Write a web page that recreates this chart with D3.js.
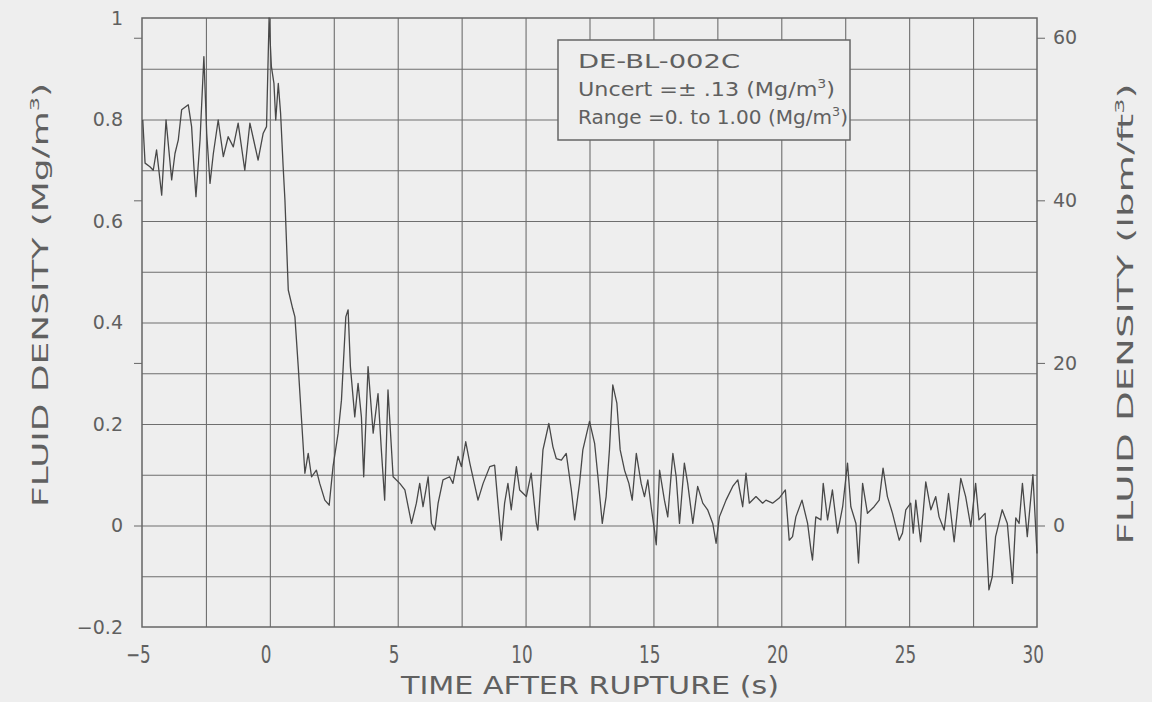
<!DOCTYPE html>
<html>
<head>
<meta charset="utf-8">
<script src="https://cdn.jsdelivr.net/npm/d3@7"></script>
<style>
  body { margin: 0; background: #eeeeee; }
  svg { display: block; }
</style>
</head>
<body>
<div id="chart"></div>
<script>
// time after rupture (s)
const time = [
  -4.97,-4.88,-4.69,-4.56,-4.43,-4.23,-4.06,-3.84,-3.71,-3.58,-3.45,-3.19,-3.06,-2.97,-2.89,-2.73,-2.58,-2.47,-2.34,-2.21,
  -2.02,-1.82,-1.63,-1.43,-1.24,-0.98,-0.78,-0.46,-0.26,-0.13,-0.03,0.06,0.16,0.23,0.33,0.42,0.52,0.59,0.72,0.89,
  0.98,1.11,1.24,1.37,1.50,1.63,1.82,1.95,2.15,2.32,2.47,2.67,2.80,2.97,3.06,3.15,3.32,3.45,3.58,3.67,
  3.84,4.04,4.23,4.36,4.49,4.62,
  4.82,5.08,5.28,5.54,5.73,5.86,5.99,6.19,6.32,6.45,6.58,6.77,7.03,7.16,7.36,7.49,7.66,7.82,8.14,8.34,
  8.60,8.79,8.92,9.05,9.18,9.31,9.44,9.64,9.77,10.03,10.22,10.42,10.48,10.68,10.91,11.07,11.20,11.40,11.59,11.79,
  11.92,12.11,12.24,12.50,12.70,12.83,13.00,13.15,13.28,13.41,13.57,13.70,13.87,14.04,14.17,14.33,14.52,14.65,14.78,14.91,
  15.04,15.11,15.24,15.43,15.56,15.76,15.89,16.02,16.21,16.34,16.54,16.73,16.93,17.12,17.32,17.45,17.58,17.84,18.10,18.30,
  18.49,18.62,18.75,19.01,19.27,
  19.40,19.66,19.92,20.16,20.31,20.44,20.57,20.81,21.03,21.16,21.22,21.35,21.55,21.64,21.81,22.00,22.20,22.40,22.59,22.72,
  22.92,23.02,23.18,23.37,23.63,23.83,23.98,24.15,24.35,24.61,24.74,24.87,25.06,25.16,25.26,25.45,25.65,25.85,26.04,26.17,
  26.37,26.54,26.76,27.02,27.21,27.41,27.60,27.73,27.97,28.12,28.25,28.38,28.64,28.84,29.04,29.17,29.30,29.43,29.62,29.84,
  30.00
];

// fluid density (Mg/m3)
const density = [
  0.799,0.714,0.707,0.700,0.740,0.651,0.799,0.681,0.733,0.760,0.819,0.829,0.786,0.707,0.648,0.760,0.924,0.773,0.674,0.733,
  0.799,0.727,0.766,0.746,0.793,0.700,0.793,0.720,0.773,0.786,1.000,0.904,0.871,0.799,0.871,0.812,0.707,0.641,0.464,0.428,
  0.411,0.313,0.208,0.103,0.142,0.096,0.109,0.083,0.050,0.040,0.116,0.182,0.247,0.411,0.425,0.313,0.214,0.280,0.214,0.096,
  0.313,0.182,0.260,0.149,0.050,0.267,
  0.096,0.083,0.070,0.004,0.044,0.083,0.037,0.096,0.004,-0.009,0.044,0.090,0.096,0.083,0.136,0.116,0.165,0.123,0.050,0.083,
  0.116,0.119,0.044,-0.029,0.044,0.083,0.031,0.116,0.070,0.057,0.103,0.004,-0.009,0.149,0.201,0.155,0.132,0.129,0.142,0.070,
  0.011,0.083,0.149,0.205,0.162,0.096,0.004,0.057,0.149,0.277,0.241,0.149,0.109,0.083,0.050,0.142,0.083,0.057,0.090,0.037,
  -0.009,-0.038,0.109,0.050,0.017,0.142,0.096,0.004,0.123,0.083,0.004,0.077,0.044,0.031,0.004,-0.035,0.017,0.050,0.077,0.090,
  0.037,0.103,0.044,0.057,0.044,
  0.050,0.044,0.054,0.070,-0.029,-0.022,0.017,0.050,0.004,-0.048,-0.068,0.017,0.011,0.083,0.011,0.070,-0.015,0.037,0.123,0.037,
  0.004,-0.074,0.083,0.024,0.037,0.050,0.113,0.057,0.024,-0.029,-0.015,0.031,0.044,-0.015,0.050,-0.032,0.086,0.031,0.057,0.017,
  -0.009,0.063,-0.032,0.093,0.057,-0.002,0.083,0.011,0.024,-0.127,-0.101,-0.022,0.031,0.004,-0.114,0.015,0.004,0.083,-0.022,0.100,
  -0.055
];

// ticks and labels
const xTicks = [-5, 0, 5, 10, 15, 20, 25, 30];
const yTicks = [1, 0.8, 0.6, 0.4, 0.2, 0, -0.2];
const yTickLabels = ["1", "0.8", "0.6", "0.4", "0.2", "0", "\u22120.2"];
const yRightTicks = [60, 40, 20, 0];
const legendLines = ["DE-BL-002C", "Uncert =\u00b1 .13 (Mg/m", "Range =0. to 1.00 (Mg/m"];
const MG_TO_LBM = 62.428;

const W = 1152, H = 702;
const plot = {left: 142, right: 1037, top: 18, bottom: 627};
const ink = "#606060";

const svg = d3.select("#chart").append("svg")
  .attr("width", W)
  .attr("height", H);

const x = d3.scaleLinear().domain([-5, 30]).range([plot.left, plot.right]);
const y = d3.scaleLinear().domain([-0.2, 1]).range([plot.bottom, plot.top]);
const yR = d3.scaleLinear().domain([-0.2 * MG_TO_LBM, MG_TO_LBM]).range([plot.bottom, plot.top]);

//Grid
const gridX = d3.range(-2.5, 30, 2.5);
const gridY = d3.range(-1, 10).map(d => d / 10);

svg.append("g")
  .attr("transform", `translate(0,${plot.bottom})`)
  .call(d3.axisBottom(x).tickValues(gridX).tickSize(-(plot.bottom - plot.top)).tickFormat(""))
  .call(g => g.select(".domain").remove())
  .selectAll("line")
    .attr("stroke", "#6e6e6e")
    .attr("stroke-width", 1.1);

svg.append("g")
  .attr("transform", `translate(${plot.left},0)`)
  .call(d3.axisLeft(y).tickValues(gridY).tickSize(-(plot.right - plot.left)).tickFormat(""))
  .call(g => g.select(".domain").remove())
  .selectAll("line")
    .attr("stroke", "#6e6e6e")
    .attr("stroke-width", 1.1);

//Frame
svg.append("rect")
  .attr("x", plot.left)
  .attr("y", plot.top)
  .attr("width", plot.right - plot.left)
  .attr("height", plot.bottom - plot.top)
  .attr("fill", "none")
  .attr("stroke", "#666")
  .attr("stroke-width", 1.5);

//Trace
const line = d3.line()
  .x((d, i) => x(time[i]))
  .y(d => y(d));

svg.append("path")
  .datum(density)
  .attr("d", line)
  .attr("fill", "none")
  .attr("stroke", "#484848")
  .attr("stroke-width", 1.3)
  .attr("stroke-linejoin", "round");

//Legend box
const legend = svg.append("g").attr("transform", "translate(558,40)");
legend.append("rect")
  .attr("width", 292)
  .attr("height", 100)
  .attr("fill", "#eeeeee")
  .attr("stroke", "#666")
  .attr("stroke-width", 1.5);

const legendWidths = [162, 257, 270];
legendLines.forEach((txt, i) => {
  const t = legend.append("text")
    .attr("x", 20)
    .attr("y", 28 + i * 28)
    .attr("font-family", "DejaVu Sans")
    .attr("font-size", 19)
    .attr("fill", ink)
    .attr("textLength", legendWidths[i])
    .attr("lengthAdjust", "spacingAndGlyphs");
  t.append("tspan").text(txt);
  if (i > 0) {
    t.append("tspan").attr("dy", -8).attr("font-size", 12).text("3");
    t.append("tspan").attr("dy", 8).text(")");
  }
});

//Left axis labels
svg.append("g")
  .attr("transform", `translate(${plot.left},0)`)
  .call(d3.axisLeft(y).tickValues(yTicks).tickSize(0).tickPadding(19)
    .tickFormat((d, i) => yTickLabels[i]))
  .call(g => g.select(".domain").remove())
  .selectAll("text")
    .attr("font-family", "DejaVu Sans")
    .attr("font-size", 19)
    .attr("fill", ink);

// left side carries the lbm ticks too
svg.append("g")
  .attr("transform", `translate(${plot.left},0)`)
  .call(d3.axisLeft(yR).tickValues(yRightTicks).tickSize(8).tickFormat(""))
  .call(g => g.select(".domain").remove())
  .selectAll("line").attr("stroke", "#666");

//Right axis
svg.append("g")
  .attr("transform", `translate(${plot.right},0)`)
  .call(d3.axisRight(yR).tickValues(yRightTicks).tickSize(8).tickPadding(8))
  .call(g => g.select(".domain").remove())
  .call(g => g.selectAll("line").attr("stroke", "#666"))
  .selectAll("text")
    .attr("font-family", "DejaVu Sans")
    .attr("font-size", 19)
    .attr("fill", ink);

//X axis labels (tall, narrow glyphs)
svg.append("g")
  .attr("transform", `translate(0,${plot.bottom})`)
  .call(d3.axisBottom(x).tickValues(xTicks).tickSize(0).tickPadding(19))
  .call(g => g.select(".domain").remove())
  .selectAll("text")
    .attr("x", -6)
    .attr("transform", "scale(0.7,1)")
    .attr("font-family", "DejaVu Sans")
    .attr("font-size", 24)
    .attr("fill", ink)
    .text(d => d < 0 ? "\u2212" + Math.abs(d) : d);

//Titles
svg.append("text")
  .attr("x", 590)
  .attr("y", 694)
  .attr("text-anchor", "middle")
  .attr("font-family", "DejaVu Sans")
  .attr("font-size", 24)
  .attr("fill", ink)
  .attr("textLength", 378)
  .attr("lengthAdjust", "spacingAndGlyphs")
  .text("TIME AFTER RUPTURE (s)");

function sideTitle(cx, cy, len, main) {
  const t = svg.append("text")
    .attr("transform", `translate(${cx},${cy}) rotate(-90)`)
    .attr("text-anchor", "middle")
    .attr("font-family", "DejaVu Sans")
    .attr("font-size", 21)
    .attr("fill", ink)
    .attr("textLength", len)
    .attr("lengthAdjust", "spacingAndGlyphs");
  t.append("tspan").text(main);
  t.append("tspan").attr("dy", -9).attr("font-size", 13).text("3");
  t.append("tspan").attr("dy", 9).text(")");
}

sideTitle(48, 295, 424, "FLUID DENSITY  (Mg/m");
sideTitle(1133, 314, 461, "FLUID DENSITY  (lbm/ft");
</script>
</body>
</html>
